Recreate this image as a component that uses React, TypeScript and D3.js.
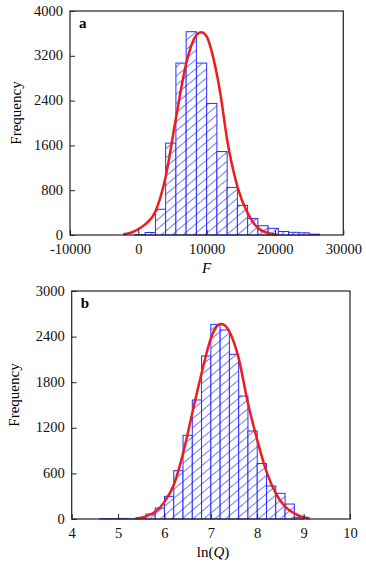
import React, { useEffect, useRef } from 'react';
import * as d3 from 'd3';

// panel a : F
const aBinStarts = [-500, 1000, 2500, 4000, 5500, 7000, 8500, 10000, 11500, 13000, 14500, 16000, 17500, 19000, 20500, 22000, 23500, 25000];
const aCounts = [8, 45, 460, 1640, 3070, 3630, 3070, 2350, 1490, 850, 530, 295, 165, 118, 62, 48, 40, 15];
const aBinWidth = 1500;
const aFitX = [-2200, -1000, 0, 1000, 2500, 4000, 5500, 7000, 8500, 9200, 10000, 11000, 12000, 13000, 14500, 16000, 17500, 19000, 20300];
const aFitY = [12, 45, 105, 190, 420, 1040, 2080, 3060, 3570, 3620, 3545, 3150, 2530, 1700, 865, 390, 125, 35, 5];
const aXTicks = [-10000, 0, 10000, 20000, 30000];
const aYTicks = [0, 800, 1600, 2400, 3200, 4000];

// panel b : ln(Q)
const bBinStarts = [4.6, 4.8, 5.0, 5.2, 5.4, 5.6, 5.8, 6.0, 6.2, 6.4, 6.6, 6.8, 7.0, 7.2, 7.4, 7.6, 7.8, 8.0, 8.2, 8.4, 8.6, 8.8];
const bCounts = [5, 5, 8, 3, 20, 65, 145, 298, 636, 1101, 1566, 2145, 2561, 2487, 2167, 1618, 1158, 730, 434, 338, 197, 22];
const bBinWidth = 0.2;
const bFitX = [5.37, 5.6, 5.8, 6.0, 6.2, 6.4, 6.6, 6.8, 7.0, 7.1, 7.22, 7.3, 7.4, 7.6, 7.8, 8.0, 8.2, 8.4, 8.6, 8.8, 9.0, 9.13];
const bFitY = [5, 35, 95, 225, 447, 860, 1395, 1917, 2377, 2510, 2565, 2550, 2465, 2114, 1522, 1040, 623, 338, 162, 75, 22, 8];
const bXTicks = [4, 5, 6, 7, 8, 9, 10];
const bYTicks = [0, 600, 1200, 1800, 2400, 3000];

const font = "'Liberation Serif', 'Times New Roman', serif";

function drawPanel(svg, p) {
  const x = d3.scaleLinear().domain(p.xDomain).range([p.left, p.right]);
  const y = d3.scaleLinear().domain(p.yDomain).range([p.bottom, p.top]);

  const g = svg.append("g");

  // bars
  g.append("g")
    .selectAll("rect")
    .data(p.starts.map((s, i) => ({ s, c: p.counts[i] })))
    .join("rect")
    .attr("x", d => x(d.s))
    .attr("y", d => y(d.c))
    .attr("width", d => x(d.s + p.binWidth) - x(d.s))
    .attr("height", d => y(0) - y(d.c))
    .attr("fill", "url(#hatch)")
    .attr("stroke", "#2b2bff")
    .attr("stroke-width", 1);

  // fitted curve
  const line = d3.line()
    .x(d => x(d[0]))
    .y(d => y(d[1]))
    .curve(d3.curveMonotoneX);
  g.append("path")
    .attr("fill", "none")
    .attr("stroke", "#ee1c1c")
    .attr("stroke-width", 2.5)
    .attr("d", line(p.fitX.map((v, i) => [v, p.fitY[i]])));

  // x axis
  g.append("g")
    .attr("transform", `translate(0,${p.bottom})`)
    .call(d3.axisBottom(x).tickValues(p.xTicks).tickSize(-5).tickSizeOuter(0).tickPadding(9).tickFormat(d => String(d)))
    .call(a => a.select(".domain").remove())
    .call(a => a.selectAll("text").attr("font-family", font).attr("font-size", 14.5).attr("fill", "#111"))
    .call(a => a.selectAll("line").attr("stroke", "#222"));

  // y axis
  g.append("g")
    .attr("transform", `translate(${p.left},0)`)
    .call(d3.axisLeft(y).tickValues(p.yTicks).tickSize(-5).tickSizeOuter(0).tickPadding(7).tickFormat(d => String(d)))
    .call(a => a.select(".domain").remove())
    .call(a => a.selectAll("text").attr("font-family", font).attr("font-size", 14.5).attr("fill", "#111").attr("dy", "0.28em"))
    .call(a => a.selectAll("line").attr("stroke", "#222"));

  // frame
  g.append("rect")
    .attr("x", p.left)
    .attr("y", p.top)
    .attr("width", p.right - p.left)
    .attr("height", p.bottom - p.top)
    .attr("fill", "none")
    .attr("stroke", "#222")
    .attr("stroke-width", 1.2);

  // panel letter
  g.append("text")
    .attr("x", p.left + 9)
    .attr("y", p.top + 17)
    .attr("font-family", font)
    .attr("font-weight", "bold")
    .attr("font-size", 15)
    .text(p.letter);

  // y title
  g.append("text")
    .attr("transform", `translate(${p.yTitleX},${(p.top + p.bottom) / 2 - 10}) rotate(-90)`)
    .attr("text-anchor", "middle")
    .attr("font-family", font)
    .attr("font-size", 15)
    .text("Frequency");

  // x title
  const xt = g.append("text")
    .attr("x", p.xTitleX)
    .attr("y", p.bottom + 38)
    .attr("text-anchor", "middle")
    .attr("font-family", font)
    .attr("font-size", 15);
  p.xTitle.forEach(part => {
    xt.append("tspan").attr("font-style", part.italic ? "italic" : "normal").text(part.t);
  });
}

const App = () => {
  const svgRef = useRef(null);

  useEffect(() => {
    const svg = d3.select(svgRef.current);
    svg.selectAll("*").remove();

    const defs = svg.append("defs");
    const pat = defs.append("pattern")
      .attr("id", "hatch")
      .attr("patternUnits", "userSpaceOnUse")
      .attr("width", 7)
      .attr("height", 7)
      .attr("patternTransform", "rotate(-40)");
    pat.append("rect").attr("width", 7).attr("height", 7).attr("fill", "white");
    pat.append("line")
      .attr("x1", 0).attr("y1", 3.5).attr("x2", 7).attr("y2", 3.5)
      .attr("stroke", "#4a5cff")
      .attr("stroke-width", 0.8);

    drawPanel(svg, {
      left: 70, right: 343.3, top: 11, bottom: 235,
      xDomain: [-10000, 30000], yDomain: [0, 4000],
      starts: aBinStarts, counts: aCounts, binWidth: aBinWidth,
      fitX: aFitX, fitY: aFitY,
      xTicks: aXTicks, yTicks: aYTicks,
      letter: "a", yTitleX: 20.5, xTitleX: 206.7,
      xTitle: [{ t: "F", italic: true }]
    });

    drawPanel(svg, {
      left: 71.7, right: 350, top: 291, bottom: 519,
      xDomain: [4, 10], yDomain: [0, 3000],
      starts: bBinStarts, counts: bCounts, binWidth: bBinWidth,
      fitX: bFitX, fitY: bFitY,
      xTicks: bXTicks, yTicks: bYTicks,
      letter: "b", yTitleX: 18.5, xTitleX: 213,
      xTitle: [{ t: "ln(", italic: false }, { t: "Q", italic: true }, { t: ")", italic: false }]
    });
  }, []);

  return (
    <svg ref={svgRef} width={366} height={568}
      style={{ position: 'absolute', left: 0, top: 0, background: 'white' }} />
  );
};

export default App;
